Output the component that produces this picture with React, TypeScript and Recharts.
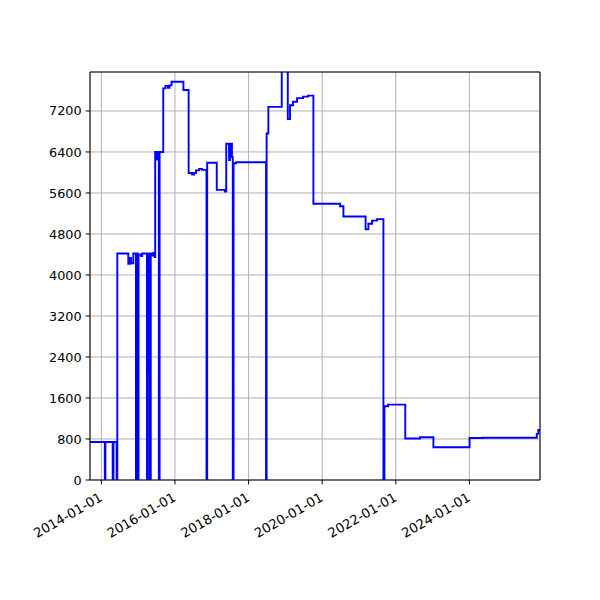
import React from "react";
import {
  CartesianGrid,
  Line,
  LineChart,
  ReferenceLine,
  XAxis,
  YAxis
} from "recharts";

// step series: date where each level starts, and its value
const dates = [
  "2013-09-10", "2014-02-04", "2014-02-10", "2014-04-23", "2014-05-01", "2014-06-01",
  "2014-06-08", "2014-09-25", "2014-10-12", "2014-10-22", "2014-11-14", "2014-12-10",
  "2014-12-20", "2014-12-28", "2015-01-05", "2015-01-30", "2015-02-10", "2015-03-29",
  "2015-04-08", "2015-04-14", "2015-04-20", "2015-04-28", "2015-05-06", "2015-05-18",
  "2015-06-01", "2015-06-14", "2015-06-19", "2015-07-01", "2015-07-12", "2015-07-25",
  "2015-08-02", "2015-09-07", "2015-09-29", "2015-10-23", "2015-11-08", "2015-11-28",
  "2016-03-25", "2016-05-16", "2016-06-19", "2016-07-09", "2016-07-28", "2016-08-28",
  "2016-09-26", "2016-11-09", "2016-11-16", "2017-02-19", "2017-05-10", "2017-05-24",
  "2017-06-21", "2017-07-01", "2017-07-20", "2017-07-28", "2017-08-05", "2017-08-30",
  "2018-06-23", "2018-06-29", "2018-07-16", "2018-11-26", "2019-01-25", "2019-02-16",
  "2019-03-18", "2019-04-27", "2019-06-26", "2019-08-14", "2019-10-06", "2020-06-27",
  "2020-07-30", "2021-03-07", "2021-04-04", "2021-05-10", "2021-06-29", "2021-08-31",
  "2021-09-10", "2021-10-16", "2022-04-05", "2022-08-29", "2023-01-09", "2024-01-03",
  "2024-05-16", "2025-10-31", "2025-11-15", "2025-12-02"
];

const values = [
  740, 0, 740, 0, 740, 0,
  4420, 4220, 4330, 4230, 4420, 0,
  4420, 0, 4400, 4370, 4420, 0,
  4400, 2080, 4420, 0, 4420, 4380,
  4430, 4350, 6400, 6250, 6400, 0,
  6400, 7640, 7690, 7650, 7700, 7770,
  7610, 5990, 5960, 5990, 6040, 6070,
  6050, 0, 6190, 5660, 5630, 6560,
  6240, 6560, 6300, 0, 6180, 6200,
  0, 6760, 7280, 8600, 7040, 7310,
  7380, 7450, 7480, 7500, 5390, 5340,
  5140, 4890, 5000, 5060, 5090, 0,
  1440, 1470, 810, 835, 640, 820,
  825, 900, 975, 975
];

const xTickLabels = ["2014-01-01", "2016-01-01", "2018-01-01", "2020-01-01", "2022-01-01", "2024-01-01"];
const yTicks = [0, 800, 1600, 2400, 3200, 4000, 4800, 5600, 6400, 7200];
const yMax = 7960;

const toTime = (s: string) => Date.parse(s + "T00:00:00Z");

const data = dates.map((d, i) => ({ t: toTime(d), v: values[i] }));
const xTicks = xTickLabels.map(toTime);
const xDomain = [toTime(dates[0]), toTime(dates[dates.length - 1])];

const FONT = "DejaVu Sans";

function DateTick(props: any) {
  const { x, y, payload } = props;
  const label = new Date(payload.value).toISOString().slice(0, 10);
  const ax = x - 3;
  const ay = y + 3;
  return (
    <text
      x={ax}
      y={ay}
      dy="0.75em"
      textAnchor="end"
      fontFamily={FONT}
      fontSize={13.2}
      fill="#000"
      transform={`rotate(-30 ${ax} ${ay})`}
    >
      {label}
    </text>
  );
}

export default function App() {
  return (
    <div style={{ position: "absolute", left: 0, top: 0, width: 600, height: 600, background: "#fff" }}>
      <LineChart width={600} height={600} data={data} margin={{ top: 72, right: 60, bottom: 0, left: 0 }}>
        <CartesianGrid stroke="#b0b0b0" strokeWidth={1} />
        <XAxis
          dataKey="t"
          type="number"
          scale="time"
          domain={xDomain}
          ticks={xTicks}
          interval={0}
          tick={<DateTick />}
          height={120}
          tickSize={4.4}
          tickMargin={4}
          stroke="#000"
          allowDataOverflow
        />
        <YAxis
          type="number"
          domain={[0, yMax]}
          ticks={yTicks}
          interval={0}
          width={90}
          tickSize={4.4}
          tickMargin={4}
          stroke="#000"
          tick={{ fill: "#000", fontFamily: FONT, fontSize: 12.8 }}
          allowDataOverflow
        />
        <Line
          type="stepAfter"
          dataKey="v"
          stroke="#0000ff"
          strokeWidth={1.9}
          dot={false}
          isAnimationActive={false}
        />
        <ReferenceLine y={yMax} stroke="#000" strokeWidth={1} />
        <ReferenceLine x={xDomain[1]} stroke="#000" strokeWidth={1} />
      </LineChart>
    </div>
  );
}
